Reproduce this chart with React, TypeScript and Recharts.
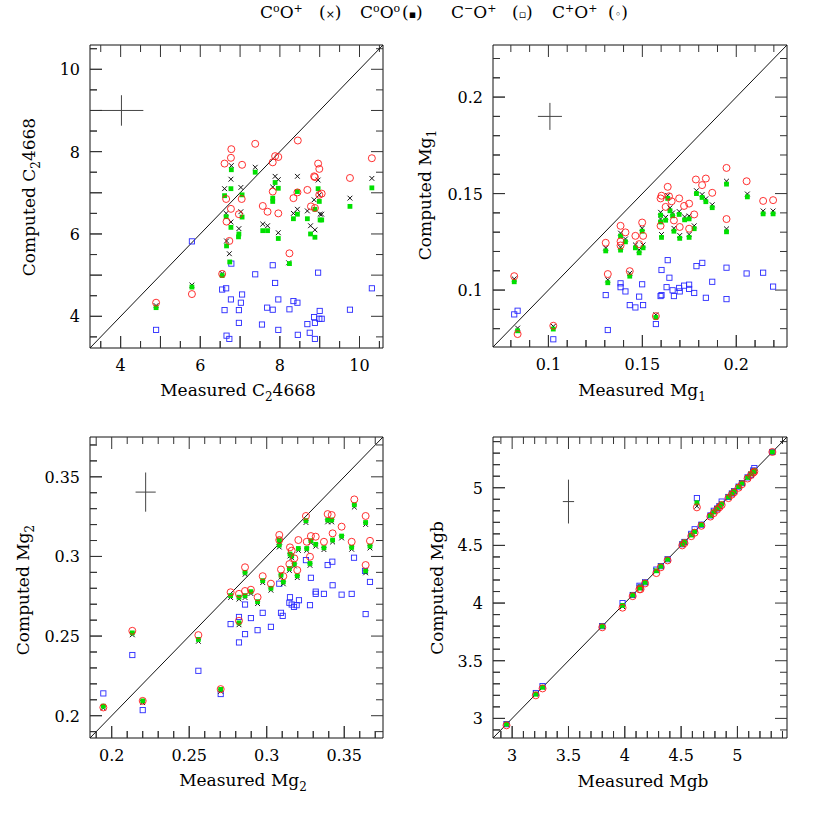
import React from 'react';
import { ScatterChart, Scatter, XAxis, YAxis, ReferenceLine } from 'recharts';

type Pt = [number, number];

// ---- C2 4668 (top left) ----
const c2Circle: Pt[] = [
  [4.89, 4.33], [5.79, 4.54], [6.55, 5.03], [6.61, 7.71], [6.78, 8.06], [6.77, 7.85], [7.05, 7.68], [7.38, 8.19],
  [6.65, 6.85], [7.04, 6.85], [6.97, 6.48], [6.77, 6.61], [6.66, 6.3], [6.73, 5.83], [7.82, 7.74], [7.88, 7.89],
  [7.96, 7.87], [8.45, 8.27], [7.82, 7.03], [7.57, 6.68], [7.69, 6.54], [7.96, 6.5], [8.24, 5.53], [8.34, 6.87],
  [8.44, 7.01], [8.69, 7.07], [8.96, 7.71], [8.99, 7.58], [8.86, 7.4], [8.88, 7.38], [8.99, 6.95], [9.05, 6.98],
  [8.78, 6.67], [8.88, 6.63], [9.76, 7.36], [10.31, 7.84],
];
const c2Cross: Pt[] = [
  [4.89, 4.26], [5.79, 4.76], [6.55, 5.04], [6.78, 7.66], [6.77, 7.33], [6.61, 7.1], [7.02, 7.13], [6.65, 6.5],
  [7.02, 6.54], [6.77, 6.29], [6.97, 6.13], [6.66, 5.83], [6.73, 5.52], [7.38, 7.62], [7.88, 7.4], [7.96, 7.32],
  [7.82, 7.14], [7.57, 6.24], [7.69, 6.2], [7.96, 6.03], [8.34, 6.5], [8.44, 7.4], [8.44, 6.6], [8.69, 6.56],
  [8.86, 6.83], [8.96, 7.31], [8.99, 6.95], [9.01, 6.48], [9.05, 6.48], [8.77, 6.2], [8.88, 6.1], [8.22, 5.3],
  [9.76, 6.87], [10.31, 7.35],
];
const c2Filled: Pt[] = [
  [4.89, 4.21], [5.79, 4.71], [6.55, 4.99], [6.78, 7.56], [6.77, 7.1], [6.61, 6.93], [7.05, 6.95], [6.65, 6.42],
  [7.05, 6.41], [6.77, 6.16], [6.97, 6.0], [6.96, 5.93], [6.66, 5.71], [6.74, 5.32], [7.38, 7.5], [7.88, 7.25],
  [7.96, 7.11], [7.82, 6.87], [7.82, 6.79], [7.57, 6.08], [7.69, 6.08], [7.96, 5.89], [8.24, 5.28], [8.34, 6.37],
  [8.44, 7.03], [8.44, 6.48], [8.69, 6.37], [8.77, 6.0], [8.88, 5.92], [8.96, 7.1], [8.99, 6.79], [9.01, 6.34],
  [9.05, 6.34], [8.88, 6.6], [9.76, 6.67], [10.31, 7.12],
];
const c2Square: Pt[] = [
  [5.79, 5.82], [6.78, 5.28], [7.82, 5.24], [7.38, 5.02], [8.96, 5.06], [7.88, 4.81], [6.55, 4.65], [6.65, 4.68],
  [10.31, 4.68], [7.05, 4.53], [6.77, 4.41], [7.96, 4.41], [8.34, 4.37], [8.44, 4.33], [7.02, 4.33], [7.68, 4.21],
  [7.82, 4.16], [8.24, 4.17], [6.61, 4.15], [6.97, 4.15], [9.76, 4.16], [9.0, 4.13], [8.86, 3.98], [9.05, 3.94],
  [8.99, 3.94], [6.97, 3.84], [7.55, 3.8], [8.69, 3.81], [8.88, 3.84], [4.89, 3.67], [7.96, 3.67], [8.75, 3.6],
  [6.66, 3.53], [8.45, 3.55], [6.73, 3.45], [8.88, 3.45],
];

// ---- Mg1 (top right) ----
const mg1Circle: Pt[] = [
  [0.0818, 0.1072], [0.0836, 0.0772], [0.1026, 0.0815], [0.1305, 0.1245], [0.1316, 0.1083], [0.1384, 0.1333],
  [0.1384, 0.1252], [0.1384, 0.1231], [0.141, 0.1299], [0.1433, 0.1098], [0.1463, 0.1281], [0.1483, 0.1238],
  [0.1499, 0.135], [0.1504, 0.1281], [0.1572, 0.0865], [0.1597, 0.1475], [0.1602, 0.1489], [0.1597, 0.1333],
  [0.1624, 0.1431], [0.1635, 0.1535], [0.1642, 0.1486], [0.1656, 0.146], [0.1668, 0.1361], [0.1696, 0.1475],
  [0.1699, 0.1327], [0.1722, 0.1436], [0.1749, 0.1448], [0.1749, 0.1318], [0.1776, 0.1392], [0.1785, 0.1573],
  [0.1818, 0.1544], [0.1838, 0.1578], [0.1872, 0.1504], [0.1948, 0.1633], [0.1948, 0.1368], [0.2055, 0.1564],
  [0.2143, 0.1462], [0.2196, 0.1466],
];
const mg1Filled: Pt[] = [
  [0.0818, 0.1043], [0.0836, 0.0789], [0.1026, 0.0798], [0.1305, 0.1203], [0.1316, 0.1038], [0.1384, 0.128],
  [0.1384, 0.1207], [0.141, 0.125], [0.1433, 0.1072], [0.1463, 0.1219], [0.1483, 0.1193], [0.1499, 0.1305],
  [0.1504, 0.1219], [0.1572, 0.0858], [0.1597, 0.1388], [0.1597, 0.1353], [0.1602, 0.1273], [0.1624, 0.1362],
  [0.1635, 0.1475], [0.1647, 0.1411], [0.1661, 0.1385], [0.1668, 0.1305], [0.1696, 0.1392], [0.1699, 0.1268],
  [0.1725, 0.1364], [0.1749, 0.1369], [0.1749, 0.1273], [0.1776, 0.1318], [0.1788, 0.15], [0.1818, 0.148],
  [0.1838, 0.1458], [0.1872, 0.1427], [0.1948, 0.1549], [0.1948, 0.1302], [0.2059, 0.1483], [0.2143, 0.1395],
  [0.2196, 0.1395],
];
const mg1Cross: Pt[] = [
  [0.0818, 0.1058], [0.0836, 0.0803], [0.1026, 0.0812], [0.1305, 0.1218], [0.1316, 0.1053], [0.1384, 0.1295],
  [0.1384, 0.1222], [0.141, 0.1265], [0.1433, 0.1087], [0.1463, 0.1234], [0.1483, 0.1208], [0.1499, 0.132],
  [0.1504, 0.1234], [0.1572, 0.0872], [0.1597, 0.1403], [0.1597, 0.1368], [0.1602, 0.1288], [0.1624, 0.1377],
  [0.1635, 0.149], [0.1647, 0.1426], [0.1661, 0.14], [0.1668, 0.132], [0.1696, 0.1407], [0.1699, 0.1283],
  [0.1725, 0.1379], [0.1749, 0.1384], [0.1749, 0.1288], [0.1776, 0.1333], [0.1788, 0.1515], [0.1818, 0.1495],
  [0.1838, 0.1473], [0.1872, 0.1442], [0.1948, 0.1564], [0.1948, 0.1317], [0.2059, 0.1498], [0.2143, 0.141],
  [0.2196, 0.141],
];
const mg1Square: Pt[] = [
  [0.0818, 0.0874], [0.0836, 0.0893], [0.1026, 0.0745], [0.1305, 0.0974], [0.1316, 0.0793], [0.1384, 0.1035],
  [0.1384, 0.1015], [0.141, 0.0993], [0.1433, 0.0922], [0.1463, 0.091], [0.1483, 0.0966], [0.1499, 0.103],
  [0.1504, 0.0922], [0.1572, 0.0824], [0.1597, 0.0969], [0.1602, 0.1104], [0.1602, 0.0974], [0.1629, 0.1015],
  [0.1635, 0.1155], [0.1644, 0.1064], [0.1661, 0.0999], [0.1668, 0.0969], [0.1696, 0.1011], [0.1699, 0.0993],
  [0.1722, 0.1023], [0.1749, 0.1028], [0.1749, 0.1006], [0.1776, 0.0985], [0.1788, 0.1124], [0.1819, 0.1141],
  [0.1838, 0.096], [0.1872, 0.1043], [0.1948, 0.1116], [0.1948, 0.0953], [0.2055, 0.1086], [0.2143, 0.109],
  [0.2196, 0.1018],
];

// ---- Mg2 (bottom left) ----
const mg2Circle: Pt[] = [
  [0.1946, 0.2052], [0.2133, 0.2533], [0.22, 0.2093], [0.2559, 0.2506], [0.2703, 0.2167], [0.2767, 0.2775],
  [0.2821, 0.2765], [0.2821, 0.2596], [0.286, 0.2932], [0.286, 0.2783], [0.2898, 0.2791], [0.2941, 0.2744],
  [0.2974, 0.2876], [0.3027, 0.2829], [0.3081, 0.3135], [0.3081, 0.3103], [0.3092, 0.2918], [0.3107, 0.2876],
  [0.3146, 0.2952], [0.315, 0.3057], [0.3161, 0.3036], [0.3178, 0.2988], [0.3197, 0.2914], [0.3204, 0.3103],
  [0.3253, 0.3254], [0.3258, 0.3092], [0.3279, 0.2998], [0.3285, 0.3128], [0.3316, 0.3124], [0.3369, 0.3092],
  [0.3393, 0.3266], [0.3419, 0.326], [0.3425, 0.3145], [0.3483, 0.3187], [0.3548, 0.3092], [0.3565, 0.3358],
  [0.3638, 0.3254], [0.3638, 0.2946], [0.3666, 0.3098],
];
const mg2Filled: Pt[] = [
  [0.1946, 0.206], [0.2133, 0.252], [0.22, 0.2093], [0.2559, 0.2479], [0.2703, 0.2165], [0.2767, 0.2754],
  [0.2821, 0.2744], [0.2821, 0.2583], [0.286, 0.29], [0.286, 0.2754], [0.2898, 0.2779], [0.2941, 0.2716],
  [0.2974, 0.2848], [0.3027, 0.28], [0.3081, 0.3103], [0.3081, 0.3071], [0.3092, 0.2882], [0.3107, 0.284],
  [0.3146, 0.2924], [0.315, 0.3015], [0.3161, 0.3003], [0.3178, 0.2952], [0.3197, 0.2879], [0.3204, 0.305],
  [0.3253, 0.3225], [0.3258, 0.305], [0.3279, 0.2956], [0.3285, 0.3099], [0.3316, 0.3076], [0.3369, 0.3055],
  [0.3393, 0.3229], [0.3419, 0.3229], [0.3425, 0.3103], [0.3483, 0.3128], [0.3548, 0.3057], [0.3565, 0.3324],
  [0.3638, 0.3213], [0.3638, 0.2909], [0.3666, 0.3065],
];
const mg2Cross: Pt[] = [
  [0.1946, 0.2048], [0.2133, 0.2508], [0.22, 0.2082], [0.2559, 0.2467], [0.2703, 0.2153], [0.2767, 0.2742],
  [0.2821, 0.2732], [0.2821, 0.2571], [0.286, 0.2888], [0.286, 0.2742], [0.2898, 0.2767], [0.2941, 0.2704],
  [0.2974, 0.2836], [0.3027, 0.2788], [0.3081, 0.3091], [0.3081, 0.3059], [0.3092, 0.287], [0.3107, 0.2828],
  [0.3146, 0.2912], [0.315, 0.3003], [0.3161, 0.2991], [0.3178, 0.294], [0.3197, 0.2867], [0.3204, 0.3038],
  [0.3253, 0.3213], [0.3258, 0.3038], [0.3279, 0.2944], [0.3285, 0.3087], [0.3316, 0.3064], [0.3369, 0.3043],
  [0.3393, 0.3217], [0.3419, 0.3217], [0.3425, 0.3091], [0.3483, 0.3116], [0.3548, 0.3045], [0.3565, 0.331],
  [0.3638, 0.3201], [0.3638, 0.2897], [0.3666, 0.3053],
];
const mg2Square: Pt[] = [
  [0.1946, 0.214], [0.2133, 0.2381], [0.22, 0.2035], [0.2559, 0.2282], [0.2703, 0.2136], [0.2767, 0.2575],
  [0.2821, 0.262], [0.2821, 0.246], [0.286, 0.2698], [0.286, 0.2512], [0.2898, 0.2613], [0.2941, 0.2537],
  [0.2974, 0.2646], [0.3027, 0.2558], [0.3081, 0.2829], [0.3092, 0.2646], [0.3103, 0.2627], [0.315, 0.2744],
  [0.3146, 0.2709], [0.3161, 0.2698], [0.3176, 0.2683], [0.3193, 0.2694], [0.3208, 0.2725], [0.3253, 0.2977],
  [0.3279, 0.2694], [0.3285, 0.2866], [0.3316, 0.2779], [0.3316, 0.2765], [0.3369, 0.2765], [0.3393, 0.2946],
  [0.3423, 0.2967], [0.3425, 0.2819], [0.3483, 0.276], [0.3548, 0.2765], [0.3563, 0.2992], [0.3634, 0.2909],
  [0.3638, 0.2638], [0.3666, 0.284],
];

// ---- Mgb (bottom right) ----
const mgbCircle: Pt[] = [
  [2.95, 2.94], [3.21, 3.2], [3.27, 3.26], [3.8, 3.79], [3.98, 3.96], [4.07, 4.06], [4.13, 4.12], [4.14, 4.12],
  [4.18, 4.17], [4.28, 4.26], [4.32, 4.31], [4.38, 4.37], [4.51, 4.5], [4.53, 4.52], [4.59, 4.58], [4.62, 4.61],
  [4.68, 4.67], [4.64, 4.83], [4.76, 4.75], [4.79, 4.78], [4.82, 4.81], [4.84, 4.83], [4.86, 4.85], [4.92, 4.91],
  [4.95, 4.94], [4.97, 4.96], [5.01, 5.0], [5.04, 5.03], [5.09, 5.08], [5.12, 5.11], [5.14, 5.13], [5.15, 5.14],
  [5.31, 5.31],
];
const mgbFilled: Pt[] = [
  [2.95, 2.95], [3.21, 3.21], [3.27, 3.27], [3.8, 3.8], [3.98, 3.98], [4.07, 4.07], [4.13, 4.13], [4.14, 4.14],
  [4.18, 4.18], [4.28, 4.28], [4.32, 4.32], [4.38, 4.38], [4.51, 4.51], [4.53, 4.53], [4.59, 4.59], [4.62, 4.62],
  [4.68, 4.68], [4.64, 4.87], [4.76, 4.76], [4.79, 4.79], [4.82, 4.82], [4.84, 4.84], [4.86, 4.86], [4.92, 4.92],
  [4.95, 4.95], [4.97, 4.97], [5.01, 5.01], [5.04, 5.04], [5.09, 5.09], [5.12, 5.12], [5.14, 5.14], [5.15, 5.15],
  [5.31, 5.31],
];
const mgbCross: Pt[] = [
  [2.95, 2.95], [3.21, 3.21], [3.27, 3.27], [3.8, 3.8], [3.98, 3.97], [4.07, 4.07], [4.13, 4.13], [4.14, 4.13],
  [4.18, 4.18], [4.28, 4.28], [4.32, 4.32], [4.38, 4.38], [4.51, 4.51], [4.53, 4.53], [4.59, 4.59], [4.62, 4.62],
  [4.68, 4.68], [4.64, 4.84], [4.76, 4.76], [4.79, 4.79], [4.82, 4.82], [4.84, 4.84], [4.86, 4.86], [4.92, 4.92],
  [4.95, 4.95], [4.97, 4.97], [5.01, 5.01], [5.04, 5.04], [5.09, 5.09], [5.12, 5.12], [5.14, 5.14], [5.15, 5.15],
  [5.31, 5.31],
];
const mgbSquare: Pt[] = [
  [2.95, 2.95], [3.21, 3.22], [3.27, 3.28], [3.8, 3.8], [3.98, 4.0], [4.07, 4.07], [4.13, 4.15], [4.14, 4.14],
  [4.18, 4.18], [4.28, 4.29], [4.32, 4.32], [4.38, 4.38], [4.51, 4.51], [4.53, 4.53], [4.59, 4.6], [4.62, 4.64],
  [4.68, 4.68], [4.64, 4.91], [4.76, 4.76], [4.79, 4.8], [4.82, 4.82], [4.84, 4.84], [4.86, 4.88], [4.92, 4.92],
  [4.95, 4.95], [4.97, 4.97], [5.01, 5.01], [5.04, 5.04], [5.09, 5.09], [5.12, 5.11], [5.14, 5.15], [5.15, 5.17],
  [5.31, 5.31],
];

// labelled tick values
const c2Labels = [4, 6, 8, 10];
const mg1Labels = [0.1, 0.15, 0.2];
const mg2Labels = [0.2, 0.25, 0.3, 0.35];
const mgbLabels = [3, 3.5, 4, 4.5, 5];

const FONT = '"DejaVu Serif", serif';
const TICK_COLOR = '#333';
const MAJOR_LEN = 12;
const MINOR_LEN = 7;

const toPoints = (arr: Pt[]) => arr.map(([x, y]) => ({ x, y }));
const near = (a: number, b: number) => Math.abs(a - b) < 1e-7;
const onStep = (v: number, step: number) => Math.abs(v / step - Math.round(v / step)) < 1e-6;

const stepTicks = (lo: number, hi: number, step: number) => {
  const out: number[] = [];
  for (let i = Math.ceil(lo / step - 1e-9); i * step <= hi + 1e-9; i++) out.push(Number((i * step).toFixed(4)));
  return out;
};

// bottom / left axis tick: inward mark plus label where one is wanted
const makeTick = (side: 'bottom' | 'left', major: number, labels: number[]) => (props: any) => {
  const x = Number(props.x);
  const y = Number(props.y);
  const v = Number(props.payload.value);
  const len = onStep(v, major) ? MAJOR_LEN : MINOR_LEN;
  const txt = labels.some((l) => near(l, v)) ? String(Number(v.toFixed(4))) : null;
  if (side === 'bottom') {
    return (
      <g>
        <line x1={x} y1={y} x2={x} y2={y - len} stroke={TICK_COLOR} strokeWidth={1} />
        {txt && <text x={x} y={y + 23} textAnchor="middle" fontSize={16} fontFamily={FONT} fill="#000">{txt}</text>}
      </g>
    );
  }
  return (
    <g>
      <line x1={x} y1={y} x2={x + len} y2={y} stroke={TICK_COLOR} strokeWidth={1} />
      {txt && <text x={x - 10} y={y + 6} textAnchor="end" fontSize={16} fontFamily={FONT} fill="#000">{txt}</text>}
    </g>
  );
};

const CrossMark = (p: any) => (
  <path d={`M${p.cx - 2.4},${p.cy - 2.4}L${p.cx + 2.4},${p.cy + 2.4}M${p.cx - 2.4},${p.cy + 2.4}L${p.cx + 2.4},${p.cy - 2.4}`} stroke="#111" strokeWidth={1} />
);
const FilledMark = (p: any) => <rect x={p.cx - 2.4} y={p.cy - 2.4} width={4.8} height={4.8} fill="#00e000" />;
const SquareMark = (p: any) => (
  <rect x={p.cx - 2.6} y={p.cy - 2.6} width={5.2} height={5.2} fill="none" stroke="#2a2aff" strokeWidth={0.9} />
);
const CircleMark = (p: any) => <circle cx={p.cx} cy={p.cy} r={3.5} fill="none" stroke="#ff1a1a" strokeWidth={0.9} />;

interface PanelProps {
  left: number;
  top: number;
  box: [number, number, number, number]; // left, top, right, bottom inside the 415 square
  domain: [number, number];
  minor: number;
  major: number;
  labels: number[];
  cross: Pt[];
  filled: Pt[];
  square: Pt[];
  circle: Pt[];
  err: { x: number; y: number; dx: number; dy: number };
}

const SIZE = 415;

const Panel: React.FC<PanelProps> = ({ left, top, box, domain, minor, major, labels, cross, filled, square, circle, err }) => {
  const ticks = stepTicks(domain[0], domain[1], minor);
  const [lo, hi] = domain;
  const [bl, bt, br, bb] = box;
  // data units per pixel along each axis, for the top / right tick lengths
  const ux = (hi - lo) / (br - bl);
  const uy = (hi - lo) / (bb - bt);
  const axisProps = {
    type: 'number' as const,
    domain: [lo, hi],
    ticks,
    interval: 0 as const,
    tickLine: false,
    tickSize: 0,
    tickMargin: 0,
    axisLine: { stroke: '#111', strokeWidth: 1 },
  };
  const marks = ticks.flatMap((t) => {
    const len = onStep(t, major) ? MAJOR_LEN : MINOR_LEN;
    return [
      [{ x: t, y: hi }, { x: t, y: hi - len * uy }],
      [{ x: hi, y: t }, { x: hi - len * ux, y: t }],
      [{ x: t, y: lo }, { x: t, y: lo + len * uy }],
      [{ x: lo, y: t }, { x: lo + len * ux, y: t }],
    ];
  });
  return (
    <div style={{ position: 'absolute', left, top, width: SIZE, height: SIZE }}>
      <ScatterChart width={SIZE} height={SIZE} margin={{ top: bt, right: SIZE - br, bottom: 0, left: 0 }}>
        <XAxis dataKey="x" height={SIZE - bb} tick={makeTick('bottom', major, labels)} {...axisProps} />
        <YAxis dataKey="y" width={bl} tick={makeTick('left', major, labels)} {...axisProps} />
        <ReferenceLine segment={[{ x: lo, y: hi }, { x: hi, y: hi }]} stroke="#111" strokeWidth={1} ifOverflow="visible" />
        <ReferenceLine segment={[{ x: hi, y: lo }, { x: hi, y: hi }]} stroke="#111" strokeWidth={1} ifOverflow="visible" />
        {marks.map((m, i) => (
          <ReferenceLine key={`m${i}`} segment={m} stroke={TICK_COLOR} strokeWidth={1} ifOverflow="visible" />
        ))}
        <ReferenceLine segment={[{ x: lo, y: lo }, { x: hi, y: hi }]} stroke="#111" strokeWidth={1} ifOverflow="visible" />
        <ReferenceLine segment={[{ x: err.x - err.dx, y: err.y }, { x: err.x + err.dx, y: err.y }]} stroke="#444" strokeWidth={1} ifOverflow="visible" />
        <ReferenceLine segment={[{ x: err.x, y: err.y - err.dy }, { x: err.x, y: err.y + err.dy }]} stroke="#444" strokeWidth={1} ifOverflow="visible" />
        <Scatter data={toPoints(square)} shape={SquareMark} isAnimationActive={false} />
        <Scatter data={toPoints(cross)} shape={CrossMark} isAnimationActive={false} />
        <Scatter data={toPoints(filled)} shape={FilledMark} isAnimationActive={false} />
        <Scatter data={toPoints(circle)} shape={CircleMark} isAnimationActive={false} />
      </ScatterChart>
    </div>
  );
};

const Title: React.FC<{ x: number; y: number; rotate?: boolean; children: React.ReactNode }> = ({ x, y, rotate, children }) => (
  <div
    style={{
      position: 'absolute',
      left: x,
      top: y,
      transform: `translate(-50%, -50%)${rotate ? ' rotate(-90deg)' : ''}`,
      whiteSpace: 'nowrap',
      fontFamily: FONT,
      fontSize: 17,
      lineHeight: '20px',
      color: '#000',
    }}
  >
    {children}
  </div>
);

const Sub: React.FC<{ children: React.ReactNode }> = ({ children }) => (
  <span style={{ fontSize: 12, position: 'relative', top: 5 }}>{children}</span>
);
const Sup: React.FC<{ children: React.ReactNode }> = ({ children }) => (
  <span style={{ fontSize: 11, position: 'relative', top: -6 }}>{children}</span>
);

const legendItems: { x: number; node: React.ReactNode }[] = [
  { x: 260, node: <>C<Sup>o</Sup>O<Sup>+</Sup></> },
  { x: 319, node: <>(<span style={{ fontSize: 11 }}>×</span>)</> },
  { x: 360, node: <>C<Sup>o</Sup>O<Sup>o</Sup></> },
  { x: 402, node: <>(<span style={{ fontSize: 11 }}>▪</span>)</> },
  { x: 451, node: <>C<Sup>−</Sup>O<Sup>+</Sup></> },
  { x: 512, node: <>(<span style={{ fontSize: 11 }}>▫</span>)</> },
  { x: 552, node: <>C<Sup>+</Sup>O<Sup>+</Sup></> },
  { x: 608, node: <>(<span style={{ fontSize: 11 }}>◦</span>)</> },
];

export default function App() {
  return (
    <div style={{ position: 'absolute', left: 0, top: 0, width: 830, height: 830, background: '#fff' }}>
      {legendItems.map((it, i) => (
        <div key={i} style={{ position: 'absolute', left: it.x, top: 2, fontFamily: FONT, fontSize: 17, lineHeight: '20px', whiteSpace: 'nowrap' }}>
          {it.node}
        </div>
      ))}

      <Panel left={0} top={0} box={[90, 45, 383, 348]} domain={[3.23, 10.59]} minor={0.5} major={1} labels={c2Labels}
        cross={c2Cross} filled={c2Filled} square={c2Square} circle={c2Circle} err={{ x: 4.02, y: 9.0, dx: 0.55, dy: 0.37 }} />
      <Panel left={415} top={0} box={[78, 45, 372, 347]} domain={[0.0705, 0.227]} minor={0.01} major={0.05} labels={mg1Labels}
        cross={mg1Cross} filled={mg1Filled} square={mg1Square} circle={mg1Circle} err={{ x: 0.1008, y: 0.19, dx: 0.0064, dy: 0.007 }} />
      <Panel left={0} top={415} box={[90, 22, 383, 323]} domain={[0.186, 0.375]} minor={0.01} major={0.05} labels={mg2Labels}
        cross={mg2Cross} filled={mg2Filled} square={mg2Square} circle={mg2Circle} err={{ x: 0.2219, y: 0.3404, dx: 0.0065, dy: 0.0123 }} />
      <Panel left={415} top={415} box={[78, 22, 372, 323]} domain={[2.83, 5.44]} minor={0.1} major={0.5} labels={mgbLabels}
        cross={mgbCross} filled={mgbFilled} square={mgbSquare} circle={mgbCircle} err={{ x: 3.5, y: 4.88, dx: 0.05, dy: 0.19 }} />

      <Title x={238} y={391}>Measured C<Sub>2</Sub>4668</Title>
      <Title x={642} y={391}>Measured Mg<Sub>1</Sub></Title>
      <Title x={243} y={781}>Measured Mg<Sub>2</Sub></Title>
      <Title x={643} y={781}>Measured Mgb</Title>

      <Title x={30} y={197} rotate>Computed C<Sub>2</Sub>4668</Title>
      <Title x={426} y={195} rotate>Computed Mg<Sub>1</Sub></Title>
      <Title x={24} y={590} rotate>Computed Mg<Sub>2</Sub></Title>
      <Title x={437} y={588} rotate>Computed Mgb</Title>
    </div>
  );
}
